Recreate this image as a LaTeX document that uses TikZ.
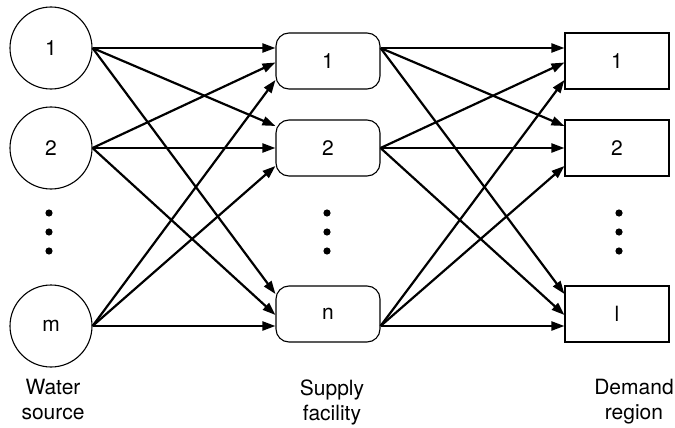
\documentclass[tikz,border=0pt]{standalone}
\usepackage{fontspec}
\setmainfont{TeX Gyre Heros}
\usetikzlibrary{arrows.meta}

\begin{document}
\begin{tikzpicture}[
    x=1pt, y=-1pt,
    font=\fontsize{21}{25}\selectfont,
    source/.style={circle, draw, line width=1.1pt, minimum size=82pt, inner sep=0pt},
    facility/.style={rectangle, rounded corners=13pt, draw, line width=1.1pt, minimum width=104pt, minimum height=56pt},
    region/.style={rectangle, draw, line width=1.1pt, minimum width=104pt, minimum height=56pt},
    arrow/.style={-{Triangle[length=13pt,width=9pt]}, line width=2.2pt},
    caption/.style={align=center, inner sep=0pt}
]
\useasboundingbox (0,0) rectangle (675,428);

% Water sources
\node[source] (w1) at (51,48) {1};
\node[source] (w2) at (51,148) {2};
\node[source] (w3) at (51,326) {m};

% Supply facilities
\node[facility] (s1) at (328,61) {1};
\node[facility] (s2) at (328,148) {2};
\node[facility] (s3) at (328,314) {n};

% Demand regions
\node[region] (d1) at (617,61) {1};
\node[region] (d2) at (617,148) {2};
\node[region] (d3) at (617,314) {l};

% Dots
\foreach \x in {49,327,619}
    \foreach \y in {213,232,251}
        \fill (\x,\y) circle (3.6pt);

% Arrows
\foreach \k/\ya/\yb/\yc in {1/13/-1.5/-19, 2/22/0/-18, 3/20/-1/-12} {
    \draw[arrow] (w1.east) -- ([yshift=\ya pt]s\k.west);
    \draw[arrow] (w2.east) -- ([yshift=\yb pt]s\k.west);
    \draw[arrow] (w3.east) -- ([yshift=\yc pt]s\k.west);
    \draw[arrow] ([yshift=13pt]s1.east) -- ([yshift=\ya pt]d\k.west);
    \draw[arrow] (s2.east) -- ([yshift=\yb pt]d\k.west);
    \draw[arrow] ([yshift=-12pt]s3.east) -- ([yshift=\yc pt]d\k.west);
}

% Captions
\node[caption] (lw) at (53,400) {Water\\source};
\node[caption] (ls) at (332,402) {Supply\\facility};
\node[caption] (ld) at (634,402) {Demand\\region};

\end{tikzpicture}
\end{document}
